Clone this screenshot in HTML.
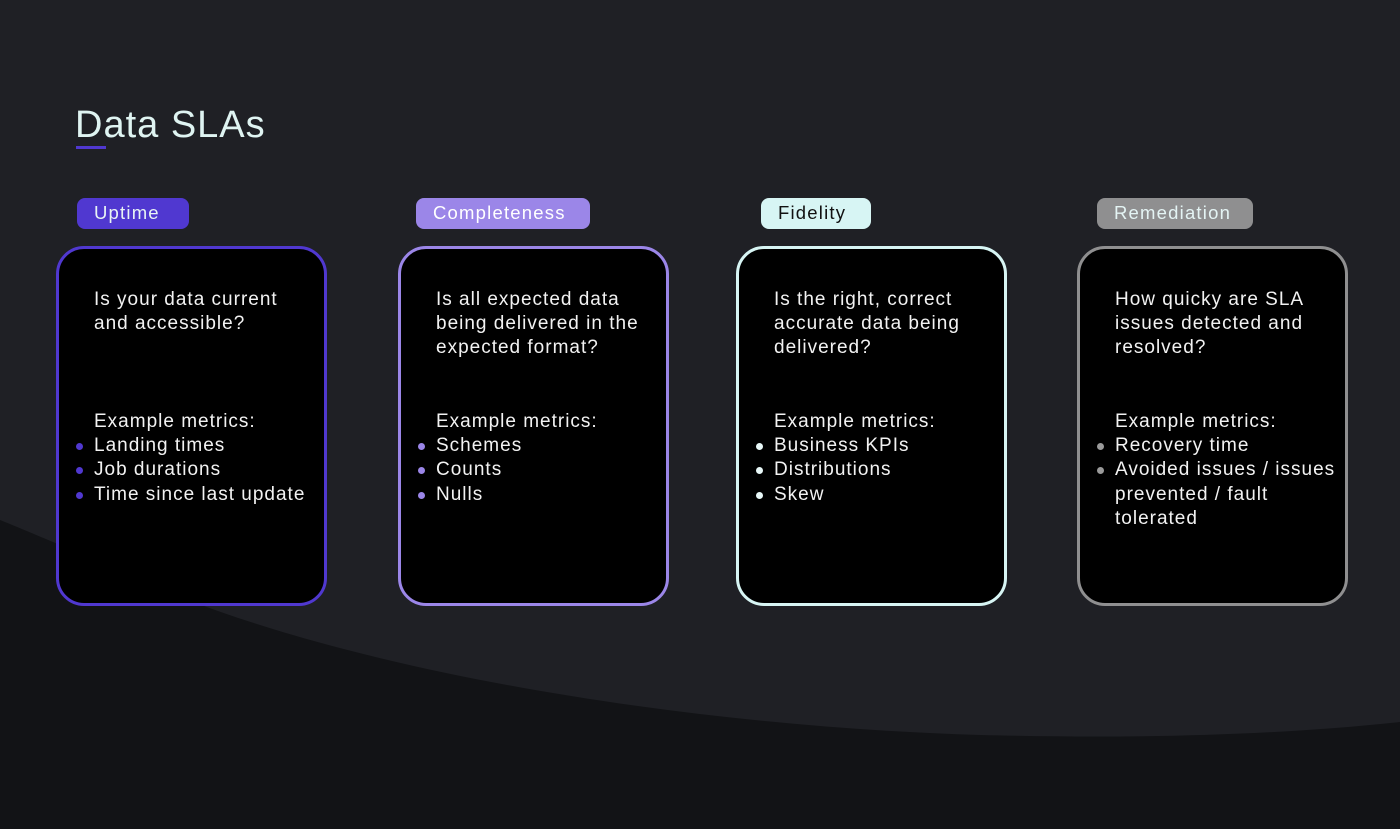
<!DOCTYPE html>
<html><head><meta charset="utf-8"><style>
*{margin:0;padding:0;box-sizing:border-box}
body{width:1400px;height:829px;overflow:hidden;background:#121316;position:relative;font-family:"Liberation Sans",sans-serif;}
svg.bg{position:absolute;left:0;top:0}
.title{position:absolute;left:75px;top:104px;font-size:38px;color:#dff4f2;font-weight:300;letter-spacing:1px}
.ul{position:absolute;left:76px;top:146px;width:30px;height:3px;background:#5038d0}
.tag{position:absolute;top:198px;height:31px;border-radius:8px;font-size:18.5px;line-height:30px;padding-left:17px;letter-spacing:1.2px}
.card{position:absolute;top:246px;width:271px;height:360px;border:3px solid;border-radius:28px;background:#000;color:#f2f2f2;font-size:19px;line-height:24.2px;letter-spacing:1px}
.q{position:absolute;left:35px;top:39px;width:240px}
.m{position:absolute;left:35px;top:161px;width:240px}
.m div{position:relative}
.m div.b::before{content:"";position:absolute;left:-18px;top:9px;width:7px;height:7px;border-radius:50%;background:var(--c)}
</style></head><body>
<svg class="bg" width="1400" height="829"><path d="M0 0 H1400 V722 C1250 738 1100 738 980 735 C650 725 300 660 120 570 C60 545 20 528 0 520 Z" fill="#1f2025"/></svg>
<div class="title">Data SLAs</div><div class="ul"></div>
<div class="tag" style="left:77px;width:112px;background:#5038d0;color:#e8f4f4">Uptime</div>
<div class="tag" style="left:416px;width:174px;background:#9b86e8;color:#fff">Completeness</div>
<div class="tag" style="left:761px;width:110px;background:#d7f5f4;color:#111">Fidelity</div>
<div class="tag" style="left:1097px;width:156px;background:#8f8f90;color:#e4f4f4">Remediation</div>

<div class="card" style="left:56px;border-color:#5038d0;--c:#5038d0">
<div class="q">Is your data current<br>and accessible?</div>
<div class="m"><div>Example metrics:</div><div class="b">Landing times</div><div class="b">Job durations</div><div class="b">Time since last update</div></div></div>

<div class="card" style="left:398px;border-color:#9b86e8;--c:#9b86e8">
<div class="q">Is all expected data<br>being delivered in the<br>expected format?</div>
<div class="m"><div>Example metrics:</div><div class="b">Schemes</div><div class="b">Counts</div><div class="b">Nulls</div></div></div>

<div class="card" style="left:736px;border-color:#d7f5f4;--c:#e8f8f8">
<div class="q">Is the right, correct<br>accurate data being<br>delivered?</div>
<div class="m"><div>Example metrics:</div><div class="b">Business KPIs</div><div class="b">Distributions</div><div class="b">Skew</div></div></div>

<div class="card" style="left:1077px;border-color:#8f8f90;--c:#9a9a9a">
<div class="q">How quicky are SLA<br>issues detected and<br>resolved?</div>
<div class="m"><div>Example metrics:</div><div class="b">Recovery time</div><div class="b">Avoided issues / issues<br>prevented / fault<br>tolerated</div></div></div>
</body></html>
